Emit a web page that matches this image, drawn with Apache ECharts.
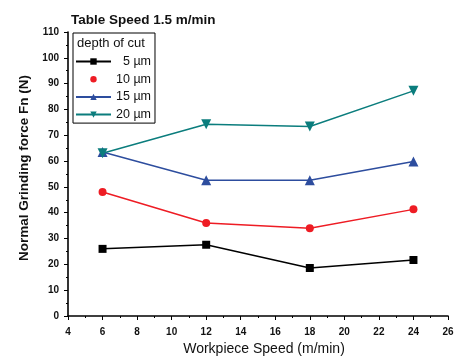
<!DOCTYPE html>
<html>
<head>
<meta charset="utf-8">
<script src="https://cdn.jsdelivr.net/npm/echarts@6/dist/echarts.min.js"></script>
<style>html,body{margin:0;padding:0;background:#fff}#c{width:456px;height:356px}</style>
</head>
<body>
<div id="c"></div>
<script>
// Workpiece speeds (m/min)
const speeds = [6, 12, 18, 24];
// Normal grinding force Fn (N) for each depth of cut
const force5 = [26, 27.6, 18.6, 21.7];
const force10 = [48, 36, 34, 41.3];
const force15 = [63.5, 52.6, 52.6, 59.8];
const force20 = [63, 74.3, 73.4, 87.2];
const seriesNames = ['5 \u00b5m', '10 \u00b5m', '15 \u00b5m', '20 \u00b5m'];

const pairs = v => speeds.map((s, i) => [s, v[i]]);
const font = 'Arial, "Liberation Sans", sans-serif';

const chart = echarts.init(document.getElementById('c'), null, {renderer: 'canvas'});
chart.setOption({
  animation: false,
  backgroundColor: '#fff',
  title: [
    {text: 'Table Speed 1.5 m/min', left: 71, top: 13, padding: 0,
     textStyle: {fontFamily: font, fontSize: 13.5, fontWeight: 'bold', color: '#111'}},
    {text: 'depth of cut', left: 77, top: 37, padding: 0,
     textStyle: {fontFamily: font, fontSize: 13, fontWeight: 'normal', color: '#111'}}
  ],
  grid: {left: 68, right: 8, top: 32, bottom: 40, outerBoundsMode: 'none', containLabel: false},
  legend: {
    orient: 'vertical', left: 73, top: 33,
    borderColor: '#000', borderWidth: 1, borderRadius: 0,
    padding: [22, 4, 2, 2],
    itemWidth: 35, itemHeight: 8, itemGap: 4.7,
    textStyle: {fontFamily: font, fontSize: 12.5, color: '#111', lineHeight: 13},
    formatter: name => name.length < 5 ? '\u2007' + name : name,
    data: [
      {name: seriesNames[0]},
      {name: seriesNames[1], lineStyle: {opacity: 0}},
      {name: seriesNames[2]},
      {name: seriesNames[3]}
    ]
  },
  xAxis: {
    type: 'value', min: 4, max: 26, interval: 2,
    name: 'Workpiece Speed (m/min)', nameLocation: 'middle', nameGap: 25,
    nameTextStyle: {fontFamily: font, fontSize: 14, fontWeight: 'normal', color: '#111',
                    padding: [0, 0, 0, 12]},
    axisLine: {lineStyle: {color: '#000', width: 1.6}},
    axisTick: {show: true, length: 4, lineStyle: {color: '#000'}},
    minorTick: {show: true, splitNumber: 2, length: 2, lineStyle: {color: '#000'}},
    axisLabel: {fontFamily: font, fontSize: 10, fontWeight: 'bold', color: '#111', margin: 11},
    splitLine: {show: false}
  },
  yAxis: {
    type: 'value', min: 0, max: 110, interval: 10,
    name: 'Normal Grinding force Fn (N)', nameLocation: 'middle', nameGap: 33,
    nameTextStyle: {fontFamily: font, fontSize: 13.5, fontWeight: 'bold', color: '#111',
                    padding: [0, 0, 0, 12]},
    axisLine: {show: true, lineStyle: {color: '#000', width: 1.6}},
    axisTick: {show: true, length: 4, lineStyle: {color: '#000'}},
    minorTick: {show: true, splitNumber: 2, length: 2, lineStyle: {color: '#000'}},
    axisLabel: {fontFamily: font, fontSize: 10, fontWeight: 'bold', color: '#111', margin: 9},
    splitLine: {show: false}
  },
  series: [
    {name: seriesNames[0], type: 'line', data: pairs(force5), color: '#000000',
     symbol: 'rect', symbolSize: 8, lineStyle: {width: 1.5}},
    {name: seriesNames[1], type: 'line', data: pairs(force10), color: '#ee1c24',
     symbol: 'circle', symbolSize: 8, lineStyle: {width: 1.5}},
    {name: seriesNames[2], type: 'line', data: pairs(force15), color: '#2d4d9e',
     symbol: 'triangle', symbolSize: 10, lineStyle: {width: 1.5}},
    {name: seriesNames[3], type: 'line', data: pairs(force20), color: '#0b7d7d',
     symbol: 'triangle', symbolRotate: 180, symbolSize: 10, lineStyle: {width: 1.5}}
  ]
});
</script>
</body>
</html>
